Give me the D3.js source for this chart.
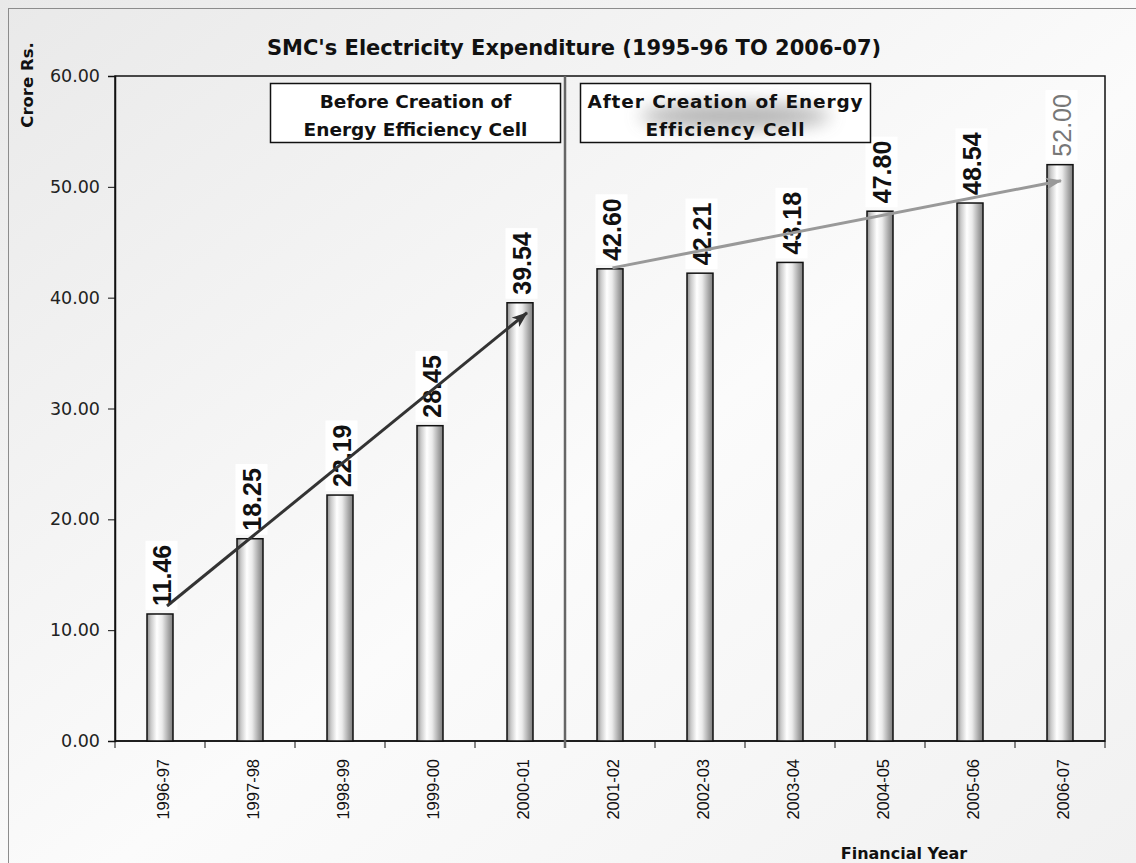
<!DOCTYPE html>
<html>
<head>
<meta charset="utf-8">
<script src="https://cdn.jsdelivr.net/npm/d3@7"></script>
<style>
  body { margin: 0; background: #fff; }
  svg { display: block; }
</style>
</head>
<body>
<script>
// data
var years = ["1996-97", "1997-98", "1998-99", "1999-00", "2000-01", "2001-02",
             "2002-03", "2003-04", "2004-05", "2005-06", "2006-07"];
var expenditure = [11.46, 18.25, 22.19, 28.45, 39.54, 42.60, 42.21, 43.18, 47.80, 48.54, 52.00];
var yTicks = [0, 10, 20, 30, 40, 50, 60];
// trend arrows: index of first and last bar of each period
var trendFrom = [0, 5];
var trendTo = [4, 10];
var periodNotes = [["Before Creation of", "Energy Efficiency Cell"],
                   ["After Creation of Energy", "Efficiency Cell"]];

var W = 1136, H = 863;
var margin = {left: 115, right: 31, top: 76, bottom: 122};
var width = W - margin.left - margin.right,
    height = H - margin.top - margin.bottom;

var svg = d3.select("body").append("svg")
    .attr("width", W)
    .attr("height", H);

var defs = svg.append("defs");

// light diagonal background
var bg = defs.append("linearGradient").attr("id", "bg")
    .attr("x1", "0%").attr("y1", "0%").attr("x2", "100%").attr("y2", "100%");
bg.append("stop").attr("offset", "0%").attr("stop-color", "#e9e9e9");
bg.append("stop").attr("offset", "55%").attr("stop-color", "#fbfbfb");
bg.append("stop").attr("offset", "100%").attr("stop-color", "#f1f1f1");

// cylinder look for bars
var barGrad = defs.append("linearGradient").attr("id", "barGrad")
    .attr("x1", "0%").attr("y1", "0%").attr("x2", "100%").attr("y2", "0%");
[["0%", "#8a8a8a"], ["15%", "#c9c9c9"], ["38%", "#ffffff"], ["58%", "#ebebeb"],
 ["85%", "#a2a2a2"], ["100%", "#7e7e7e"]].forEach(function(s) {
    barGrad.append("stop").attr("offset", s[0]).attr("stop-color", s[1]);
});

defs.append("filter").attr("id", "blur")
    .attr("x", "-50%").attr("y", "-100%").attr("width", "200%").attr("height", "300%")
    .append("feGaussianBlur").attr("stdDeviation", 9);

["#333333", "#999999"].forEach(function(c, i) {
    defs.append("marker")
        .attr("id", "head" + i)
        .attr("markerUnits", "userSpaceOnUse")
        .attr("viewBox", "0 0 16 12")
        .attr("refX", 15).attr("refY", 6)
        .attr("markerWidth", 16).attr("markerHeight", 12)
        .attr("orient", "auto")
        .append("path")
        .attr("d", "M0,0 L16,6 L0,12 L4,6 Z")
        .attr("fill", c);
});

svg.append("rect")
    .attr("width", W).attr("height", H)
    .attr("fill", "url(#bg)");

// outer frame
svg.append("rect")
    .attr("x", 8.5).attr("y", 8.5)
    .attr("width", W + 20).attr("height", H + 20)
    .attr("fill", "none")
    .attr("stroke", "#8c8c8c");

var g = svg.append("g")
    .attr("transform", "translate(" + margin.left + "," + margin.top + ")");

var xScale = d3.scaleBand().domain(years).range([0, width]);
var yScale = d3.scaleLinear().domain([0, 60]).range([height, 0]);
var barW = 26;

// plot area border
g.append("rect")
    .attr("width", width).attr("height", height)
    .attr("fill", "none")
    .attr("stroke", "#111")
    .attr("stroke-width", 1.5);

// y axis
var yAxis = d3.axisLeft(yScale)
    .tickValues(yTicks)
    .tickSize(7)
    .tickPadding(8)
    .tickFormat(d3.format(".2f"));
var gy = g.append("g").call(yAxis);
gy.select(".domain").attr("stroke", "#111").attr("stroke-width", 1.5);
gy.selectAll(".tick line").attr("stroke", "#111");
gy.selectAll(".tick text")
    .style("font-family", "'DejaVu Sans', sans-serif")
    .style("font-size", "17.5px")
    .attr("fill", "#222");

// x axis: ticks at band edges, labels rotated
var gx = g.append("g").attr("transform", "translate(0," + height + ")");
gx.append("line")
    .attr("x1", 0).attr("x2", width)
    .attr("stroke", "#111").attr("stroke-width", 1.5);
gx.selectAll(".edge")
    .data(d3.range(years.length + 1))
    .enter().append("line")
    .attr("class", "edge")
    .attr("x1", function(i) { return i * xScale.step(); })
    .attr("x2", function(i) { return i * xScale.step(); })
    .attr("y1", 0).attr("y2", 7)
    .attr("stroke", "#111");
gx.selectAll(".yr")
    .data(years)
    .enter().append("text")
    .attr("class", "yr")
    .attr("transform", function(d) {
        return "translate(" + (xScale(d) + xScale.bandwidth() / 2 + 9) + ",18) rotate(-90)";
    })
    .attr("text-anchor", "end")
    .style("font-family", "'Liberation Sans', Arial, sans-serif")
    .style("font-size", "16.5px")
    .attr("fill", "#111")
    .text(function(d) { return d; });

// bars
g.selectAll(".bar")
    .data(expenditure)
    .enter().append("rect")
    .attr("class", "bar")
    .attr("x", function(d, i) { return xScale(years[i]) + xScale.bandwidth() / 2 - barW / 2; })
    .attr("y", function(d) { return yScale(d); })
    .attr("width", barW)
    .attr("height", function(d) { return height - yScale(d); })
    .attr("fill", "url(#barGrad)")
    .attr("stroke", "#111")
    .attr("stroke-width", 1.5);

// value labels with white backing
var labels = g.selectAll(".val")
    .data(expenditure)
    .enter().append("g")
    .attr("class", "val")
    .attr("transform", function(d, i) {
        return "translate(" + (xScale(years[i]) + xScale.bandwidth() / 2 + 10.5) + "," + (yScale(d) - 8) + ") rotate(-90)";
    });
labels.append("rect")
    .attr("x", -4).attr("y", -24)
    .attr("width", 71).attr("height", 34)
    .attr("fill", "#fff");
labels.append("text")
    .attr("text-anchor", "start")
    .style("font-family", "'Liberation Sans', Arial, sans-serif")
    .style("font-size", "25px")
    .style("font-weight", function(d, i) { return i == expenditure.length - 1 ? "normal" : "bold"; })
    .attr("fill", function(d, i) { return i == expenditure.length - 1 ? "#777" : "#111"; })
    .text(function(d) { return d3.format(".2f")(d); });
labels.each(function() {
    var t = d3.select(this).select("text").node().getBBox();
    d3.select(this).select("rect")
        .attr("x", t.x - 4).attr("width", t.width + 8)
        .attr("y", t.y - 2).attr("height", t.height + 4);
});

// divider between the two periods
var splitX = xScale(years[trendTo[0]]) + xScale.step();
g.append("line")
    .attr("x1", splitX).attr("x2", splitX)
    .attr("y1", 0).attr("y2", height + 7)
    .attr("stroke", "#666")
    .attr("stroke-width", 2.5);

// trend arrows
var arrowStart = [[7, -8], [2.5, -1]];
var arrowEnd = [[7, 10], [1, 16]];
var arrowColor = ["#333333", "#999999"];
trendFrom.forEach(function(a, k) {
    var b = trendTo[k];
    g.append("line")
        .attr("x1", xScale(years[a]) + xScale.bandwidth() / 2 + arrowStart[k][0])
        .attr("y1", yScale(expenditure[a]) + arrowStart[k][1])
        .attr("x2", xScale(years[b]) + xScale.bandwidth() / 2 + arrowEnd[k][0])
        .attr("y2", yScale(expenditure[b]) + arrowEnd[k][1])
        .attr("stroke", arrowColor[k])
        .attr("stroke-width", 3)
        .attr("marker-end", "url(#head" + k + ")");
});

// period note boxes
var boxes = [{x: 270, w: 290, ls: 0}, {x: 580, w: 290, ls: 0.9}];
boxes.forEach(function(bx, k) {
    var bg2 = svg.append("g");
    bg2.append("rect")
        .attr("x", bx.x + 0.5).attr("y", 83.5)
        .attr("width", bx.w).attr("height", 59)
        .attr("fill", "#fff")
        .attr("stroke", "#111")
        .attr("stroke-width", 1.5);
    if (k == 1) {
        bg2.append("ellipse")
            .attr("cx", bx.x + 155).attr("cy", 116)
            .attr("rx", 95).attr("ry", 13)
            .attr("fill", "#9a9a9a")
            .attr("opacity", 0.75)
            .attr("filter", "url(#blur)");
    }
    periodNotes[k].forEach(function(line, j) {
        bg2.append("text")
            .attr("x", bx.x + bx.w / 2 + 0.5)
            .attr("y", 108 + j * 28)
            .attr("text-anchor", "middle")
            .style("font-family", "'DejaVu Sans', sans-serif")
            .style("font-weight", "bold")
            .style("font-size", "18.5px")
            .style("letter-spacing", bx.ls + "px")
            .attr("fill", "#111")
            .text(line);
    });
});

// title and axis titles
svg.append("text")
    .attr("x", 574).attr("y", 55)
    .attr("text-anchor", "middle")
    .style("font-family", "'DejaVu Sans', sans-serif")
    .style("font-weight", "bold")
    .style("font-size", "21px")
    .attr("fill", "#111")
    .text("SMC's Electricity Expenditure (1995-96 TO 2006-07)");

svg.append("text")
    .attr("transform", "translate(33,85) rotate(-90)")
    .attr("text-anchor", "middle")
    .style("font-family", "'DejaVu Sans', sans-serif")
    .style("font-weight", "bold")
    .style("font-size", "16.5px")
    .attr("fill", "#111")
    .text("Crore Rs.");

svg.append("text")
    .attr("x", 904).attr("y", 859)
    .attr("text-anchor", "middle")
    .style("font-family", "'DejaVu Sans', sans-serif")
    .style("font-weight", "bold")
    .style("font-size", "16px")
    .attr("fill", "#111")
    .text("Financial Year");
</script>
</body>
</html>
